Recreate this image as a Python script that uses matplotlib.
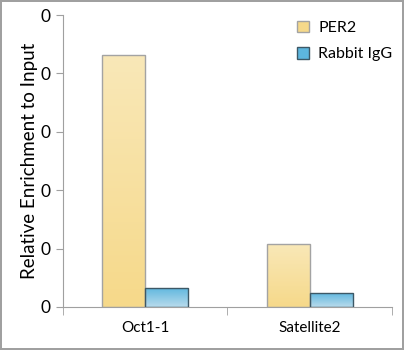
import numpy as np
import matplotlib
matplotlib.use('Agg')
from matplotlib import pyplot as plt
from matplotlib.colors import LinearSegmentedColormap
from matplotlib.patches import Patch

plt.rcParams['font.family'] = ['Lato', 'DejaVu Sans']

categories = ['Oct1-1', 'Satellite2']
series_names = ['PER2', 'Rabbit IgG']
per2 = [0.0432, 0.0108]
igg = [0.0033, 0.0024]
yticks = [0, 0.01, 0.02, 0.03, 0.04, 0.05]

# gradients: (top colour, bottom colour)
per2_grad = ('#f9e8b8', '#f6d98a')
igg_grad = ('#5db6de', '#b8dbec')
per2_edge = '#a3a3a3'
igg_edge = '#3d5866'

fig = plt.figure(figsize=(4.04, 3.5), dpi=100)
fig.patch.set_edgecolor('#a0a0a0')
fig.patch.set_linewidth(1.5)
ax = fig.add_axes([0.156, 0.123, 0.814, 0.834])

x = np.arange(len(categories))
w = 0.262


def grad_bars(xpos, vals, grad, edge):
    bars = ax.bar(xpos, vals, w, facecolor='none', edgecolor=edge,
                  linewidth=1.0, zorder=3)
    cmap = LinearSegmentedColormap.from_list('g', [grad[1], grad[0]])
    g = np.linspace(0, 1, 100).reshape(-1, 1)
    for b in bars:
        x0, y0 = b.get_x(), b.get_y()
        im = ax.imshow(g, cmap=cmap, origin='lower', aspect='auto',
                       extent=[x0, x0 + b.get_width(), y0, y0 + b.get_height()],
                       zorder=2)
        im.set_clip_path(b)
    return bars


grad_bars(x - w / 2, per2, per2_grad, per2_edge)
grad_bars(x + w / 2, igg, igg_grad, igg_edge)

ax.set_xlim(-0.5, 1.5)
ax.set_ylim(0, 0.05)
ax.set_yticks(yticks)
ax.set_yticklabels(['{:.0f}'.format(v) for v in yticks])
ax.set_xticks(x)
ax.set_xticklabels(categories)
ax.set_xticks([-0.5, 0.5, 1.5], minor=True)
ax.tick_params(axis='x', which='major', length=0, pad=10, labelsize=11)
ax.tick_params(axis='x', which='minor', length=6, color='#a0a0a0', direction='out')
ax.tick_params(axis='y', length=5, color='#a0a0a0', labelsize=12.5, pad=4)

for s in ['top', 'right']:
    ax.spines[s].set_visible(False)
for s in ['left', 'bottom']:
    ax.spines[s].set_color('#a0a0a0')

ax.set_ylabel('Relative Enrichment to Input', fontsize=13.5, labelpad=2)

handles = [Patch(facecolor=per2_grad[1], edgecolor=per2_edge, label=series_names[0]),
           Patch(facecolor=igg_grad[0], edgecolor=igg_edge, label=series_names[1])]
ax.legend(handles=handles, loc='upper right', frameon=False, fontsize=11.5,
          handlelength=0.75, handleheight=0.75, handletextpad=0.6,
          labelspacing=0.75, bbox_to_anchor=(1.045, 1.03))

fig.savefig('out.png', dpi=100, edgecolor=fig.get_edgecolor())
